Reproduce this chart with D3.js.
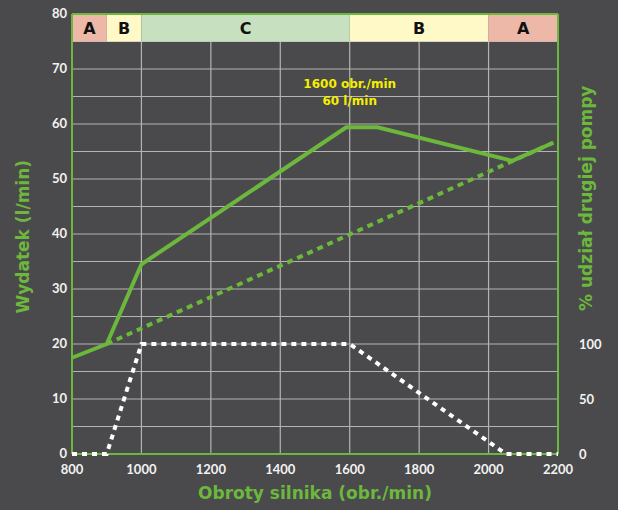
<!DOCTYPE html>
<html>
<head>
<meta charset="utf-8">
<script src="https://cdn.jsdelivr.net/npm/d3@7"></script>
<style>
    body { margin: 0; background: #4a4a4c; }
    text { font-family: "Lato", "DejaVu Sans", sans-serif; font-weight: bold; }
    .title { font-family: "DejaVu Sans", sans-serif; }
</style>
</head>
<body>
<div id="chart"></div>
<script>
// obroty silnika (obr./min) -> wydatek (l/min)
var totalRpm = [800, 900, 1000, 1590, 1680, 2068, 2183];
var totalFlow = [17.5, 20, 34.5, 59.4, 59.4, 53.3, 56.5];

var singleRpm = [900, 2200];
var singleFlow = [20, 57];

// udział drugiej pompy (%)
var shareRpm = [800, 900, 1000, 1600, 2050, 2200];
var sharePct = [0, 0, 100, 100, 0, 0];

var zoneStart = [800, 900, 1000, 1600, 2000];
var zoneEnd = [900, 1000, 1600, 2000, 2200];
var zoneLabel = ["A", "B", "C", "B", "A"];

var xTicks = [800, 1000, 1200, 1400, 1600, 1800, 2000, 2200];
var yTicks = [0, 10, 20, 30, 40, 50, 60, 70, 80];
var yRightTicks = [0, 50, 100];

var green = "#6cb83c";
var grid = "#b4b4b4";
var zoneColor = { A: "#edb8a8", B: "#fff9c8", C: "#c7e0c0" };

var width = 618, height = 510;
var margin = { top: 14, right: 60, bottom: 56, left: 72 };

var svg = d3.select("#chart")
    .append("svg")
    .attr("width", width)
    .attr("height", height);

svg.append("rect")
    .attr("width", width)
    .attr("height", height)
    .attr("fill", "#4a4a4c");

var x = d3.scaleLinear()
    .domain([800, 2200])
    .range([margin.left, width - margin.right]);
var y = d3.scaleLinear()
    .domain([0, 80])
    .range([height - margin.bottom, margin.top]);
var yRight = d3.scaleLinear()
    .domain([0, 400])
    .range([height - margin.bottom, margin.top]);

// gridlines
svg.append("g")
    .selectAll("line")
    .data(d3.range(0, 80, 5))
    .enter().append("line")
    .attr("x1", x(800)).attr("x2", x(2200))
    .attr("y1", d => y(d)).attr("y2", d => y(d))
    .attr("stroke", grid).attr("stroke-width", 1.2);

svg.append("g")
    .selectAll("line")
    .data(xTicks.slice(1, -1))
    .enter().append("line")
    .attr("x1", d => x(d)).attr("x2", d => x(d))
    .attr("y1", y(0)).attr("y2", y(75))
    .attr("stroke", grid).attr("stroke-width", 1.2);

// zones on top
var zones = d3.range(zoneLabel.length).map(i => ({ s: zoneStart[i], e: zoneEnd[i], l: zoneLabel[i] }));
svg.append("g")
    .selectAll("rect")
    .data(zones)
    .enter().append("rect")
    .attr("x", d => x(d.s))
    .attr("width", d => x(d.e) - x(d.s))
    .attr("y", y(80))
    .attr("height", y(75) - y(80))
    .attr("fill", d => zoneColor[d.l]);

svg.append("g")
    .selectAll("text")
    .data(zones)
    .enter().append("text")
    .attr("class", "title")
    .attr("x", d => (x(d.s) + x(d.e)) / 2)
    .attr("y", (y(80) + y(75)) / 2 + 6)
    .attr("text-anchor", "middle")
    .attr("font-size", 16)
    .attr("fill", "#111")
    .text(d => d.l);

// frame
svg.append("line")
    .attr("x1", x(800)).attr("x2", x(800))
    .attr("y1", y(0)).attr("y2", y(80))
    .attr("stroke", green).attr("stroke-width", 2);
svg.append("line")
    .attr("x1", x(2200)).attr("x2", x(2200))
    .attr("y1", y(0)).attr("y2", y(80))
    .attr("stroke", green).attr("stroke-width", 2);
svg.append("line")
    .attr("x1", x(800)).attr("x2", x(2200))
    .attr("y1", y(80)).attr("y2", y(80))
    .attr("stroke", green).attr("stroke-width", 2);
svg.append("line")
    .attr("x1", x(800)).attr("x2", x(2200))
    .attr("y1", y(0)).attr("y2", y(0))
    .attr("stroke", green).attr("stroke-width", 2);

// series
var shareLine = d3.line()
    .x((d, i) => x(shareRpm[i]))
    .y(d => yRight(d));
svg.append("path")
    .datum(sharePct)
    .attr("fill", "none")
    .attr("stroke", "#ffffff")
    .attr("stroke-width", 4)
    .attr("stroke-dasharray", "5,5")
    .attr("d", shareLine);

var singleLine = d3.line()
    .x((d, i) => x(singleRpm[i]))
    .y(d => y(d));
svg.append("path")
    .datum(singleFlow)
    .attr("fill", "none")
    .attr("stroke", green)
    .attr("stroke-width", 4)
    .attr("stroke-dasharray", "6,5")
    .attr("d", singleLine);

var totalLine = d3.line()
    .x((d, i) => x(totalRpm[i]))
    .y(d => y(d));
svg.append("path")
    .datum(totalFlow)
    .attr("fill", "none")
    .attr("stroke", green)
    .attr("stroke-width", 4)
    .attr("d", totalLine);

// tick labels
svg.append("g")
    .selectAll("text")
    .data(yTicks)
    .enter().append("text")
    .attr("x", x(800) - 5)
    .attr("y", d => y(d) + 4)
    .attr("text-anchor", "end")
    .attr("font-size", 13)
    .attr("fill", "#f2f2f2")
    .text(d => d);

svg.append("g")
    .selectAll("text")
    .data(xTicks)
    .enter().append("text")
    .attr("x", d => x(d))
    .attr("y", y(0) + 20)
    .attr("text-anchor", "middle")
    .attr("font-size", 13)
    .attr("fill", "#f2f2f2")
    .text(d => d);

svg.append("g")
    .selectAll("text")
    .data(yRightTicks)
    .enter().append("text")
    .attr("x", x(2200) + 21)
    .attr("y", d => yRight(d) + 5)
    .attr("text-anchor", "start")
    .attr("font-size", 13)
    .attr("fill", "#f2f2f2")
    .text(d => d);

// axis titles
svg.append("text")
    .attr("class", "title")
    .attr("transform", "translate(29," + y(39.5) + ") rotate(-90)")
    .attr("text-anchor", "middle")
    .attr("font-size", 17)
    .attr("fill", green)
    .text("Wydatek (l/min)");

svg.append("text")
    .attr("class", "title")
    .attr("transform", "translate(592," + y(46.5) + ") rotate(-90)")
    .attr("text-anchor", "middle")
    .attr("font-size", 17)
    .attr("fill", green)
    .text("% udział drugiej pompy");

svg.append("text")
    .attr("class", "title")
    .attr("x", 315)
    .attr("y", 499)
    .attr("text-anchor", "middle")
    .attr("font-size", 17)
    .attr("fill", green)
    .text("Obroty silnika (obr./min)");

// annotation
svg.append("text")
    .attr("class", "title")
    .attr("x", x(1600))
    .attr("y", y(66.5))
    .attr("text-anchor", "middle")
    .attr("font-size", 12)
    .attr("fill", "#f5ee00")
    .text("1600 obr./min");
svg.append("text")
    .attr("class", "title")
    .attr("x", x(1600))
    .attr("y", y(63.4))
    .attr("text-anchor", "middle")
    .attr("font-size", 12)
    .attr("fill", "#f5ee00")
    .text("60 l/min");
</script>
</body>
</html>
